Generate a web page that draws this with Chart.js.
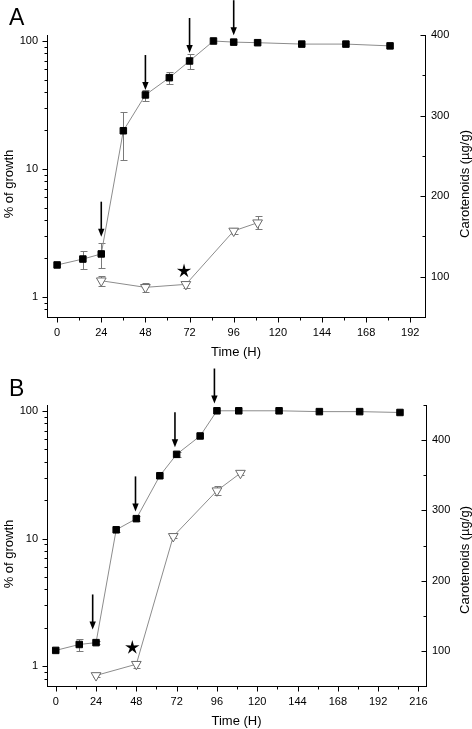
<!DOCTYPE html>
<html>
<head>
<meta charset="utf-8">
<script src="https://cdn.jsdelivr.net/npm/chart.js@4.4.1/dist/chart.umd.min.js"></script>
<style>
html, body { margin: 0; padding: 0; background: #fff; }
#wrapA { position: absolute; left: 0; top: 0; width: 472px; height: 364px; }
#wrapB { position: absolute; left: 0; top: 364px; width: 472px; height: 365px; }
</style>
</head>
<body>
<div id="wrapA"><canvas id="chartA"></canvas></div>
<div id="wrapB"><canvas id="chartB"></canvas></div>
<script>
// --- DATOS PANEL A ---
const timeGrowthA = [0, 14, 24, 36, 48, 61, 72, 85, 96, 109, 133, 157, 181];
const growthA     = [1.78, 1.98, 2.17, 19.9, 37.9, 51.7, 69.8, 100, 98, 97, 94.6, 94.6, 91.6];
const growthErrA  = [0, 0.31, 0.47, 8.2, 3.7, 5.2, 9.3, 0, 0, 0, 0, 0, 0];
const timeCarA    = [24, 48, 70, 96, 109];
const carA        = [95, 86.8, 90.5, 156.8, 167];
const carErrA     = [6.5, 5.5, 4, 3.5, 8];
const arrowXA     = [24, 48, 72, 96];
const arrowTipA   = [2.96, 41.4, 80.6, 111];
const starA       = { x: 69, y: 107 };
const xTicksA     = [0, 24, 48, 72, 96, 120, 144, 168, 192];

// --- DATOS PANEL B ---
const timeGrowthB = [0, 14, 24, 36, 48, 62, 72, 86, 96, 109, 133, 157, 181, 205];
const growthB     = [1.33, 1.48, 1.53, 11.7, 14.3, 31, 45.6, 63.5, 100, 100, 100, 98.5, 98.5, 97];
const growthErrB  = [0, 0.16, 0.05, 0.5, 0.6, 0, 2, 0, 0, 0, 0, 0, 0, 0];
const timeCarB    = [24, 48, 70, 96, 110];
const carB        = [65, 81, 263, 328, 353];
const carErrB     = [2, 5, 3, 6.5, 3];
const arrowXB     = [22, 47.5, 71, 94.5];
const arrowTipB   = [1.94, 16.3, 51.8, 114];
const starB       = { x: 45.6, y: 104.7 };
const xTicksB     = [0, 24, 48, 72, 96, 120, 144, 168, 192, 216];

const growthTicks = [1, 10, 100];
const growthMinor = [0.8, 0.9, 2, 3, 4, 5, 6, 7, 8, 9, 20, 30, 40, 50, 60, 70, 80, 90];

const FONT = '"Liberation Sans", Arial, sans-serif';
Chart.defaults.font.family = FONT;
Chart.defaults.color = '#000';

function decor(cfg) {
    return {
        id: 'decor',
        beforeDatasetsDraw(chart) {
            const ctx = chart.ctx;
            const xs = chart.scales.x;
            ctx.save();
            ctx.strokeStyle = '#7a7a7a';
            ctx.lineWidth = 1;
            cfg.errores.forEach(e => {
                const ys = chart.scales[e.eje];
                e.t.forEach((t, i) => {
                    const err = e.err[i];
                    if (!err) return;
                    const px = Math.round(xs.getPixelForValue(t)) + 0.5;
                    const top = Math.round(ys.getPixelForValue(e.v[i] + err)) + 0.5;
                    const bot = Math.round(ys.getPixelForValue(e.v[i] - err)) + 0.5;
                    ctx.beginPath();
                    ctx.moveTo(px, top); ctx.lineTo(px, bot);
                    ctx.moveTo(px - 3, top); ctx.lineTo(px + 4, top);
                    ctx.moveTo(px - 3, bot); ctx.lineTo(px + 4, bot);
                    ctx.stroke();
                });
            });
            ctx.restore();
        },
        afterDraw(chart) {
            const ctx = chart.ctx;
            const {x, y, y2} = chart.scales;
            const area = chart.chartArea;
            ctx.save();
            ctx.strokeStyle = '#000';
            ctx.lineWidth = 1;
            ctx.beginPath();
            // marcas eje x (hacia fuera)
            const yb = Math.round(area.bottom) + 0.5;
            cfg.xTicks.forEach(v => { const p = Math.round(x.getPixelForValue(v)) + 0.5; ctx.moveTo(p, yb); ctx.lineTo(p, yb + 5); });
            cfg.xMinor.forEach(v => { const p = Math.round(x.getPixelForValue(v)) + 0.5; ctx.moveTo(p, yb); ctx.lineTo(p, yb + 3); });
            // marcas eje izquierdo (hacia fuera)
            const xl = Math.round(area.left) + 0.5;
            growthTicks.forEach(v => { const p = Math.round(y.getPixelForValue(v)) + 0.5; ctx.moveTo(xl, p); ctx.lineTo(xl - 5, p); });
            growthMinor.forEach(v => { const p = Math.round(y.getPixelForValue(v)) + 0.5; ctx.moveTo(xl, p); ctx.lineTo(xl - 3, p); });
            // marcas eje derecho (hacia dentro)
            const xr = Math.round(area.right) + 0.5;
            cfg.y2Ticks.forEach(v => { const p = Math.round(y2.getPixelForValue(v)) + 0.5; ctx.moveTo(xr, p); ctx.lineTo(xr - 5, p); });
            cfg.y2Minor.forEach(v => { const p = Math.round(y2.getPixelForValue(v)) + 0.5; ctx.moveTo(xr, p); ctx.lineTo(xr - 3, p); });
            ctx.stroke();

            // flechas
            ctx.fillStyle = '#000';
            ctx.lineWidth = 1.6;
            cfg.flechasX.forEach((ax, i) => {
                const px = x.getPixelForValue(ax);
                const tip = y.getPixelForValue(cfg.flechasTip[i]);
                ctx.beginPath();
                ctx.moveTo(px, tip - 35);
                ctx.lineTo(px, tip - 6);
                ctx.stroke();
                ctx.beginPath();
                ctx.moveTo(px - 3.2, tip - 8);
                ctx.lineTo(px + 3.2, tip - 8);
                ctx.lineTo(px, tip);
                ctx.closePath();
                ctx.fill();
            });

            // estrella
            const sx = x.getPixelForValue(cfg.estrella.x);
            const sy = y2.getPixelForValue(cfg.estrella.y);
            ctx.beginPath();
            for (let k = 0; k < 10; k++) {
                const r = k % 2 === 0 ? 7.5 : 2.6;
                const ang = -Math.PI / 2 + k * Math.PI / 5;
                const px = sx + r * Math.cos(ang);
                const py = sy + r * Math.sin(ang);
                if (k === 0) ctx.moveTo(px, py); else ctx.lineTo(px, py);
            }
            ctx.closePath();
            ctx.fill();

            // letra del panel
            ctx.font = '23px ' + FONT;
            ctx.textAlign = 'left';
            ctx.textBaseline = 'alphabetic';
            ctx.fillText(cfg.letra, 9, cfg.letraY);

            // titulos verticales
            ctx.font = '13px ' + FONT;
            ctx.textAlign = 'center';
            ctx.textBaseline = 'middle';
            ctx.save();
            ctx.translate(9, cfg.tituloIzqY);
            ctx.rotate(-Math.PI / 2);
            ctx.fillText('% of growth', 0, 0);
            ctx.restore();
            ctx.save();
            ctx.translate(465, cfg.tituloDerY);
            ctx.rotate(-Math.PI / 2);
            ctx.fillText('Carotenoids (\u00b5g/g)', 0, 0);
            ctx.restore();
            ctx.restore();
        }
    };
}

function crearPanel(id, p) {
    const ctx = document.getElementById(id).getContext('2d');
    return new Chart(ctx, {
        type: 'line',
        data: {
            datasets: [{
                label: 'Growth',
                yAxisID: 'y',
                data: p.tg.map((t, i) => ({ x: t, y: p.g[i] })),
                borderColor: '#8c8c8c',
                borderWidth: 1,
                pointStyle: 'rect',
                pointRadius: 4.6,
                pointBackgroundColor: '#000',
                pointBorderColor: '#000',
                pointBorderWidth: 1
            }, {
                label: 'Carotenoids',
                yAxisID: 'y2',
                data: p.tc.map((t, i) => ({ x: t, y: p.c[i] })),
                borderColor: '#8c8c8c',
                borderWidth: 1,
                pointStyle: 'triangle',
                pointRotation: 180,
                pointRadius: 5.6,
                pointBackgroundColor: '#fff',
                pointBorderColor: '#6a6a6a',
                pointBorderWidth: 1
            }]
        },
        options: {
            responsive: true,
            maintainAspectRatio: false,
            animation: false,
            layout: { padding: { top: p.top, left: 0, right: 0, bottom: 0 } },
            plugins: {
                legend: { display: false },
                tooltip: { enabled: false }
            },
            scales: {
                x: {
                    type: 'linear',
                    min: p.xMin,
                    max: p.xMax,
                    afterBuildTicks: s => { s.ticks = p.xTicks.map(v => ({ value: v })); },
                    afterFit: s => { s.height = p.xHeight; },
                    grid: { display: false, tickLength: 5 },
                    border: { display: true, color: '#000', width: 1 },
                    ticks: { font: { size: 11 }, color: '#000', padding: 4, maxRotation: 0 },
                    title: { display: true, text: 'Time (H)', font: { size: 13 }, color: '#000', padding: { top: 0, bottom: p.titlePad } }
                },
                y: {
                    type: 'logarithmic',
                    position: 'left',
                    min: p.yMin,
                    max: p.yMax,
                    afterBuildTicks: s => { s.ticks = growthTicks.map(v => ({ value: v })); },
                    afterFit: s => { s.width = 47; },
                    grid: { display: false, tickLength: 5 },
                    border: { display: true, color: '#000', width: 1 },
                    ticks: { font: { size: 11 }, color: '#000', padding: 4, callback: v => String(v) }
                },
                y2: {
                    type: 'linear',
                    position: 'right',
                    min: 50,
                    max: p.y2Max,
                    afterBuildTicks: s => { s.ticks = p.y2Ticks.map(v => ({ value: v })); },
                    afterFit: s => { s.width = p.rightW; },
                    grid: { display: false, tickLength: 2 },
                    border: { display: true, color: '#000', width: 1 },
                    ticks: { font: { size: 11 }, color: '#000', padding: 4 }
                }
            }
        },
        plugins: [decor({
            errores: [
                { eje: 'y', t: p.tg, v: p.g, err: p.ge },
                { eje: 'y2', t: p.tc, v: p.c, err: p.ce }
            ],
            xTicks: p.xTicks,
            xMinor: p.xMinor,
            y2Ticks: p.y2Ticks,
            y2Minor: p.y2Minor,
            flechasX: p.ax,
            flechasTip: p.at,
            estrella: p.star,
            letra: p.letra,
            letraY: p.letraY,
            tituloIzqY: p.tIzq,
            tituloDerY: p.tDer
        })]
    });
}

const minorX = ticks => ticks.slice(0, -1).map(v => v + 12);

crearPanel('chartA', {
    tg: timeGrowthA, g: growthA, ge: growthErrA,
    tc: timeCarA, c: carA, ce: carErrA,
    ax: arrowXA, at: arrowTipA, star: starA,
    xTicks: xTicksA, xMinor: minorX(xTicksA),
    xMin: -5.5, xMax: 200, yMin: 0.698, yMax: 111.4, y2Max: 400,
    y2Ticks: [100, 200, 300, 400], y2Minor: [50, 150, 250, 350],
    top: 35, xHeight: 47, rightW: 47, titlePad: 4,
    letra: 'A', letraY: 25, tIzq: 184, tDer: 184
});

crearPanel('chartB', {
    tg: timeGrowthB, g: growthB, ge: growthErrB,
    tc: timeCarB, c: carB, ce: carErrB,
    ax: arrowXB, at: arrowTipB, star: starB,
    xTicks: xTicksB, xMinor: minorX(xTicksB),
    xMin: -5.2, xMax: 220.5, yMin: 0.707, yMax: 111, y2Max: 450,
    y2Ticks: [100, 200, 300, 400], y2Minor: [50, 150, 250, 350, 450],
    top: 41, xHeight: 43, rightW: 46, titlePad: 0,
    letra: 'B', letraY: 32, tIzq: 190, tDer: 196
});
</script>
</body>
</html>
